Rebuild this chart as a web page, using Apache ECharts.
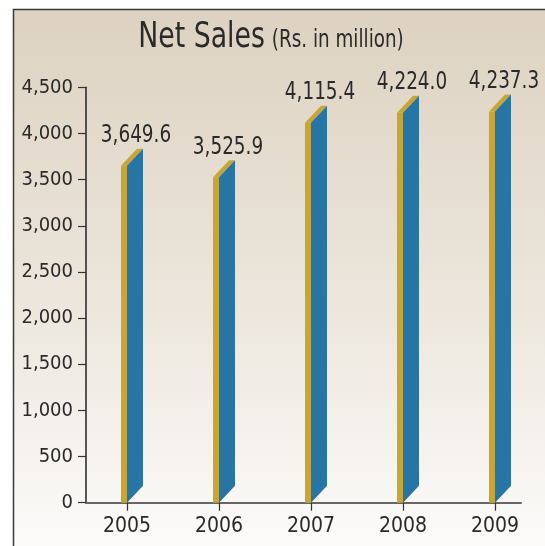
<!DOCTYPE html>
<html>
<head>
<meta charset="utf-8">
<script src="https://cdn.jsdelivr.net/npm/echarts@6/dist/echarts.min.js"></script>
<style>
html,body{margin:0;padding:0;background:#fff;}
#chart{width:545px;height:546px;}
</style>
</head>
<body>
<div id="chart"></div>
<script>
// Data
const years = [2005, 2006, 2007, 2008, 2009];
const netSales = [3649.6, 3525.9, 4115.4, 4224.0, 4237.3];
const yTicks = [0, 500, 1000, 1500, 2000, 2500, 3000, 3500, 4000, 4500];
const titleMain = 'Net Sales';
const titleSub = '(Rs. in million)';

const FONT = '"Liberation Sans Narrow", "DejaVu Sans Condensed", "Arial Narrow", sans-serif';
const GOLD = '#c9a533';
const BLUE = '#2775a4';
const INK = '#2a2a2a';

function fmt(v, d) {
  return v.toLocaleString('en-US', {minimumFractionDigits: d, maximumFractionDigits: d});
}

const chart = echarts.init(document.getElementById('chart'), null, {renderer: 'canvas'});

const option = {
  animation: false,
  graphic: [{
    type: 'rect',
    z: -100,
    silent: true,
    shape: {x: 13.5, y: 9.5, width: 700, height: 700},
    style: {
      fill: new echarts.graphic.LinearGradient(0, 9, 0, 546, [
        {offset: 0, color: '#ddd2c1'},
        {offset: 0.55, color: '#ece6dc'},
        {offset: 1, color: '#fcfbfa'}
      ], true),
      stroke: '#3a3a3a',
      lineWidth: 1.5
    }
  }, {
    type: 'text',
    z: 10,
    x: 271,
    y: 38,
    originX: 0,
    originY: 0,
    scaleX: 0.85,
    style: {
      text: '{a|' + titleMain + '}{b|' + titleSub + '}',
      align: 'center',
      verticalAlign: 'middle',
      rich: {
        a: {fontFamily: FONT, fontSize: 35, fontWeight: 'normal', fill: INK, lineHeight: 40, padding: [0, 8, 0, 0]},
        b: {fontFamily: FONT, fontSize: 24, fontWeight: 'normal', fill: INK, lineHeight: 40, padding: [5, 0, 0, 0]}
      }
    }
  }],
  grid: {left: 86, right: 24, top: 87.3, bottom: 43.3, containLabel: false},
  xAxis: {
    type: 'value',
    min: 2005 - 41 / 92,
    max: 2009 + 26 / 92,
    splitLine: {show: false},
    axisLine: {show: true, lineStyle: {color: '#666', width: 2}},
    axisTick: {show: true, customValues: years, length: 8, lineStyle: {color: '#333', width: 1.2}},
    axisLabel: {
      customValues: years,
      formatter: v => String(v),
      fontFamily: FONT, fontSize: 21, color: INK, margin: 13
    }
  },
  yAxis: {
    type: 'value',
    min: 0,
    max: 4500,
    interval: 500,
    splitLine: {show: false},
    axisLine: {show: true, lineStyle: {color: '#222', width: 1.5}},
    axisTick: {show: true, length: 8, lineStyle: {color: '#333', width: 1.2}},
    axisLabel: {
      customValues: yTicks,
      formatter: v => fmt(v, 0),
      fontFamily: FONT, fontSize: 20, color: INK, margin: 13
    }
  },
  series: [{
    type: 'custom',
    data: years.map((y, i) => [y, netSales[i]]),
    renderItem: function (params, api) {
      const x = api.value(0), v = api.value(1);
      const top = api.coord([x, v]);
      const base = api.coord([x, 0]);
      const cx = top[0], ty = top[1], by = base[1];
      const fw = 6, dx = 16, dy = 17;
      const lx = cx + 9, ly = ty - 30;
      return {
        type: 'group',
        children: [
          {type: 'rect', shape: {x: cx - fw, y: ty, width: fw, height: by - ty}, style: {fill: GOLD}},
          {type: 'polygon', shape: {points: [[cx - fw, ty], [cx, ty], [cx + dx, ty - dy], [cx + dx - fw, ty - dy]]}, style: {fill: GOLD}},
          {type: 'polygon', shape: {points: [[cx, ty], [cx + dx, ty - dy], [cx + dx, by - dy], [cx, by]]}, style: {fill: BLUE}},
          {type: 'text', x: lx, y: ly, originX: 0, scaleX: 0.82, style: {
            text: fmt(v, 1), font: '25px ' + FONT, fill: INK, align: 'center', verticalAlign: 'middle'
          }}
        ]
      };
    }
  }]
};
chart.setOption(option);
</script>
</body>
</html>
